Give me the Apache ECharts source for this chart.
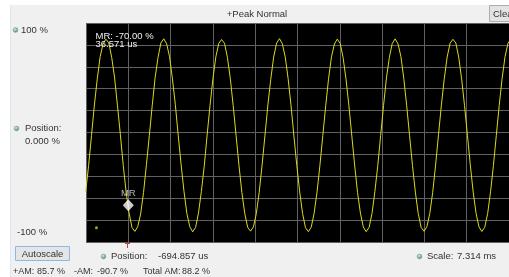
<!DOCTYPE html>
<html>
<head>
<meta charset="utf-8">
<script src="https://cdn.jsdelivr.net/npm/echarts@6/dist/echarts.min.js"></script>
<style>
  html, body { margin: 0; padding: 0; background: #fff; }
  #main { width: 509px; height: 277px; }
</style>
</head>
<body>
<div id="main"></div>
<script>
// trace samples (time in us, amplitude in %)
const sampleStartUs = -700
const sampleStepUs = 50
const traceValues = [
  -54.1, -30.2, -2.8, 25.1, 49.0, 69.3, 81.0, 85.2, 81.7, 68.5, 49.8, 24.3, -2.1, -30.4, -54.9, -73.5, -86.8, -90.3, -86.0, -74.4,
  -54.8, -29.3, -3.0, 24.5, 49.9, 68.4, 81.8, 85.6, 80.9, 69.2, 48.8, 25.3, -2.9, -29.5, -54.0, -74.2, -86.1, -90.7, -86.7, -73.6,
  -53.9, -30.5, -2.2, 24.9, 49.2, 69.0, 81.3, 84.9, 81.5, 68.7, 49.6, 24.6, -2.6, -29.9, -54.6, -73.8, -86.5, -90.1, -86.2, -74.1,
  -54.5, -29.6, -2.4, 25.2, 48.7, 68.8, 81.6, 85.7, 81.1, 69.0, 49.3, 24.9, -3.1, -30.1, -54.2, -74.0, -86.9, -90.5, -86.4, -73.7,
  -54.3, -29.9, -2.7, 24.4, 49.5, 69.1, 80.8, 85.3, 81.4, 68.6, 49.1, 25.0, -2.3, -29.7, -54.7, -73.6, -86.3, -90.6, -86.6, -74.2,
  -54.0, -30.3, -2.5, 24.7, 49.8, 68.5, 81.2, 85.5, 81.0, 69.4, 49.4, 24.5, -2.8, -30.0, -54.4, -74.1, -86.7, -90.2, -85.9, -73.8,
  -54.6, -29.7, -2.1, 25.0, 49.1, 68.9, 81.5, 85.1, 81.8, 68.8, 48.9, 24.7, -2.4, -29.6, -54.5, -73.9, -86.2, -90.4, -86.5, -74.0,
  -54.2, -30.0, -2.6, 24.8, 49.3, 69.2, 81.1, 85.4
]

// x range of the screen (position + scale)
const positionUs = -694.857
const scaleUs = 7314
const ampRange = [-100, 100]

// marker MR
const markerName = 'MR'
const markerPoint = [36.571, -70.0]
// small trigger level dot
const levelDot = [-514, -87]

// texts
const title = '+Peak Normal'
const topLabel = '100 %'
const bottomLabel = '-100 %'
const posLabel = ['Position:', '0.000 %']
const xPosLabel = ['Position:', '-694.857 us']
const scaleLabel = ['Scale:', '7.314 ms']
const amLabels = [['+AM:', '85.7 %'], ['-AM:', '-90.7 %'], ['Total AM:', '88.2 %']]
const markerReadout = ['MR: -70.00 %', '36.571 us']

const FONT = '"Liberation Sans", Arial, sans-serif'
const TXT = '#333'

function txt(x, y, s, opt) {
  opt = opt || {}
  return {
    type: 'text', x: x, y: y, silent: true, z: 10,
    style: {
      text: s,
      fill: opt.color || TXT,
      font: (opt.size || 9) + 'px ' + FONT,
      align: opt.align || 'left', textAlign: opt.align || 'left',
      verticalAlign: 'middle', textVerticalAlign: 'middle'
    }
  }
}

function icon(cx, cy) {
  return {
    type: 'circle', shape: { cx: cx, cy: cy, r: 2.4 }, silent: true, z: 10,
    style: {
      fill: new echarts.graphic.RadialGradient(0.4, 0.35, 0.7, [
        { offset: 0, color: '#d6ecd2' },
        { offset: 1, color: '#3f6ea0' }
      ]),
      stroke: '#7fae7a', lineWidth: 0.6
    }
  }
}

const traceData = traceValues.map((v, i) => [sampleStartUs + i * sampleStepUs, v])

const chart = echarts.init(document.getElementById('main'))

chart.setOption({
  backgroundColor: '#f0f0f0',
  animation: false,
  grid: {
    left: 86, top: 23, width: 433, height: 219,
    show: true, backgroundColor: '#000', borderWidth: 0
  },
  xAxis: [{
    // 10 screen divisions, only for the graticule
    type: 'value', min: 0, max: 10, interval: 1,
    axisLine: { show: false }, axisTick: { show: false }, axisLabel: { show: false },
    splitLine: { show: true, lineStyle: { color: '#616161', width: 1 } }
  }, {
    type: 'value', min: positionUs, max: positionUs + scaleUs, show: false
  }],
  yAxis: {
    type: 'value', min: ampRange[0], max: ampRange[1], interval: 20,
    axisLine: { show: false }, axisTick: { show: false }, axisLabel: { show: false },
    splitLine: { show: true, lineStyle: { color: '#616161', width: 1 } }
  },
  series: [{
    name: 'trace',
    type: 'line',
    xAxisIndex: 1,
    data: traceData,
    showSymbol: false,
    clip: true,
    lineStyle: { color: '#dada1e', width: 1 },
    z: 3
  }, {
    name: 'level',
    type: 'scatter',
    xAxisIndex: 1,
    data: [levelDot],
    symbolSize: 3,
    itemStyle: { color: '#d4d400' },
    z: 4
  }, {
    name: markerName,
    type: 'scatter',
    xAxisIndex: 1,
    data: [markerPoint],
    symbol: 'diamond',
    symbolSize: [11, 12],
    symbolOffset: [0, -4],
    itemStyle: { color: '#fff' },
    label: {
      show: true, position: 'top', distance: 1,
      formatter: markerName, color: '#e0e0e0',
      fontSize: 9.5, fontFamily: FONT
    },
    z: 5
  }],
  graphic: [
    // window frame around the panel
    { type: 'rect', shape: { x: 0, y: 0, width: 509, height: 5 }, style: { fill: '#fff' }, silent: true },
    { type: 'rect', shape: { x: 0, y: 0, width: 10, height: 277 }, style: { fill: '#fff' }, silent: true },
    { type: 'line', shape: { x1: 10.5, y1: 5, x2: 10.5, y2: 277 }, style: { stroke: '#dbe6f0', lineWidth: 1 }, silent: true },
    // header
    txt(257, 14, title, { align: 'center', size: 9.5 }),
    { type: 'rect', shape: { x: 489.5, y: 5.5, width: 40, height: 16 }, style: { fill: '#e3e3e3', stroke: '#adadad', lineWidth: 1 }, silent: true },
    txt(493, 14, 'Clear', { size: 9.5 }),
    // left side
    icon(15.5, 30), txt(21, 30, topLabel, { size: 9.5 }),
    icon(16.5, 128.5), txt(25, 128, posLabel[0], { size: 9.5 }), txt(25, 141.5, posLabel[1], { size: 9.5 }),
    txt(17, 232.5, bottomLabel, { size: 9.5 }),
    { type: 'rect', shape: { x: 15.5, y: 246.5, width: 54, height: 14 }, style: { fill: '#e5e5e5', stroke: '#8cb8e4', lineWidth: 1 }, silent: true },
    txt(42.5, 254, 'Autoscale', { align: 'center', size: 9.5 }),
    // trigger mark under the screen
    { type: 'line', shape: { x1: 125, y1: 243.5, x2: 130, y2: 243.5 }, style: { stroke: '#c94040', lineWidth: 1 }, silent: true },
    { type: 'line', shape: { x1: 127.5, y1: 243, x2: 127.5, y2: 248 }, style: { stroke: '#c94040', lineWidth: 1 }, silent: true },
    // bottom row
    icon(103.5, 256.5), txt(111, 256, xPosLabel[0], { size: 9.5 }), txt(158, 256, xPosLabel[1], { size: 9.5 }),
    icon(419.5, 256.5), txt(427, 256, scaleLabel[0], { size: 9.5 }), txt(457, 256, scaleLabel[1], { size: 9.5 }),
    txt(13, 272, amLabels[0][0]), txt(37, 272, amLabels[0][1]),
    txt(74, 272, amLabels[1][0]), txt(97, 272, amLabels[1][1]),
    txt(143, 272, amLabels[2][0]), txt(182, 272, amLabels[2][1]),
    // marker readout inside the screen
    txt(95.5, 36, markerReadout[0], { color: '#f0f0f0', size: 9.5 }),
    txt(95.5, 44.5, markerReadout[1], { color: '#f0f0f0', size: 9.5 })
  ]
})
</script>
</body>
</html>
